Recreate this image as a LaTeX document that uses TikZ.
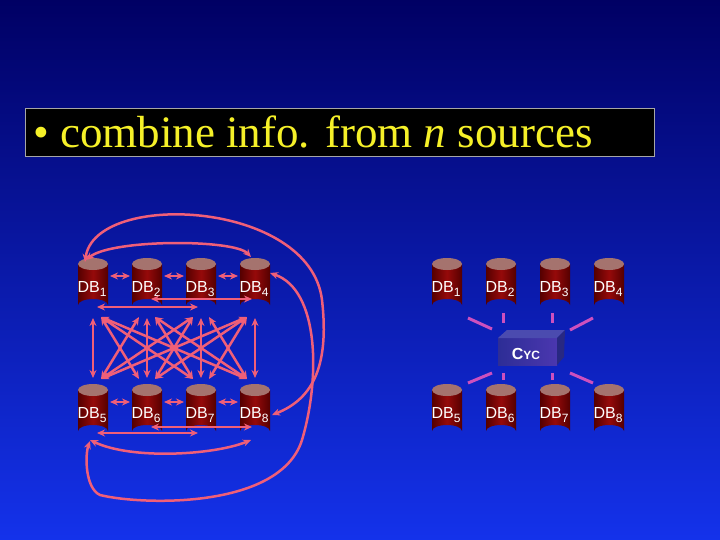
\documentclass[tikz,border=0pt]{standalone}
\usepackage{fontspec}
\setmainfont{Liberation Serif}
\setsansfont{Liberation Sans}
\usetikzlibrary{arrows.meta,calc}
\definecolor{bgtop}{RGB}{0,0,100}
\definecolor{bgbot}{RGB}{20,50,235}
\definecolor{arr}{RGB}{240,95,120}
\definecolor{cycl}{RGB}{205,80,190}
\definecolor{cylmid}{RGB}{150,10,10}
\definecolor{cyledge}{RGB}{85,0,0}
\definecolor{cyltop}{RGB}{165,115,110}
\definecolor{titley}{RGB}{245,240,40}
\definecolor{cfront}{RGB}{45,45,150}
\definecolor{cfront2}{RGB}{75,55,175}
\definecolor{ctop}{RGB}{75,75,175}
\definecolor{cside}{RGB}{40,40,130}
\tikzset{
  dbl/.style={arr,line width=2.5pt,{Stealth[length=8pt,width=7pt]}-{Stealth[length=8pt,width=7pt]}},
  cycline/.style={cycl,line width=3pt},
  dblabel/.style={text=white,font=\sffamily\fontsize{16}{16}\selectfont,inner sep=0pt}
}
\newcommand{\cyl}[4]{%
  \shade[left color=cyledge,right color=cyledge,middle color=cylmid]
    (#2-15,#3+6) -- (#2-15,#3+47) arc[start angle=180,end angle=360,x radius=15,y radius=6] -- (#2+15,#3+6) -- cycle;
  \fill[cyltop] (#2,#3+6) ellipse[x radius=15,y radius=6];
  \node[dblabel] (#1) at (#2-1,#3+31) {DB\raisebox{-4pt}{\fontsize{12}{12}\selectfont #4}};
}
\begin{document}
\begin{tikzpicture}[x=1pt,y=-1pt]
\shade[top color=bgtop,bottom color=bgbot] (0,0) rectangle (720,540);
\useasboundingbox (0,0) rectangle (720,540);
% title
\node[draw=gray!70,fill=black,line width=0.8pt,minimum width=629pt,minimum height=48pt,inner sep=0pt] (title) at (339.5,132) {};
\node[text=titley,font=\fontsize{45}{45}\selectfont,anchor=west,inner sep=0pt] (ttext) at (33,132) {• combine info. from \textit{n} sources};
% left cylinders
\foreach \i/\x in {1/93,2/147,3/201,4/255}{\cyl{L\i}{\x}{258}{\i}}
\foreach \i/\x in {5/93,6/147,7/201,8/255}{\cyl{L\i}{\x}{384}{\i}}
% right cylinders
\foreach \i/\x in {1/447,2/501,3/555,4/609}{\cyl{R\i}{\x}{258}{\i}}
\foreach \i/\x in {5/447,6/501,7/555,8/609}{\cyl{R\i}{\x}{384}{\i}}
% horizontal adjacent
\foreach \a/\b in {1/2,2/3,3/4}{
  \draw[dbl] ($(L\a)+(18,-13)$) -- ($(L\b)+(-16,-13)$);
  \pgfmathtruncatemacro{\c}{\a+4}\pgfmathtruncatemacro{\d}{\b+4}
  \draw[dbl] ($(L\c)+(18,-13)$) -- ($(L\d)+(-16,-13)$);
}
\draw[dbl] ($(L1)+(5,18)$) -- ($(L3)+(-2,18)$);
\draw[dbl] ($(L2)+(5,10)$) -- ($(L4)+(-2,10)$);
\draw[dbl] ($(L5)+(5,18)$) -- ($(L7)+(-2,18)$);
\draw[dbl] ($(L6)+(5,12)$) -- ($(L8)+(-2,12)$);
% verticals
\foreach \a/\b in {1/5,2/6,3/7,4/8}{\draw[dbl] ($(L\a)+(1,29)$) -- ($(L\b)+(1,-37)$);}
% diagonals
\foreach \a in {1,2,3,4}{\foreach \b in {1,2,3,4}{
  \ifnum\a<\b \pgfmathtruncatemacro{\bb}{\b+4}
    \draw[dbl] ($(L\a)+(9,28)$) -- ($(L\bb)+(-7,-36)$);
  \fi
  \ifnum\a>\b \pgfmathtruncatemacro{\bb}{\b+4}
    \draw[dbl] ($(L\a)+(-7,28)$) -- ($(L\bb)+(9,-36)$);
  \fi}}
% long arcs
\draw[dbl] ($(L1)+(-6,-29)$) .. controls ($(L1)+(20,-50)$) and ($(L4)+(-20,-50)$) .. ($(L4)+(-3,-32)$);
\draw[dbl] ($(L5)+(-2,25)$) .. controls ($(L5)+(40,45)$) and ($(L8)+(-40,40)$) .. ($(L8)+(-3,25)$);
\draw[dbl] ($(L1)+(-7,-27)$) .. controls (95,190) and (310,200) .. (322,300) .. controls (330,370) and (310,400) .. ($(L8)+(18,0)$);
\draw[dbl] ($(L4)+(16,-16)$) .. controls (320,290) and (320,380) .. (302,440) .. controls (280,510) and (140,505) .. (100,495) .. controls (85,488) and (85,455) .. ($(L5)+(-2,26)$);
% Cyc box
\shade[left color=cfront,right color=cfront2] (498,338) rectangle (557,365);
\fill[ctop] (498,338) -- (507,330) -- (565,330) -- (557,338) -- cycle;
\fill[cside] (557,338) -- (565,330) -- (564,357) -- (557,365) -- cycle;
\node[text=white,font=\sffamily\bfseries\fontsize{16}{16}\selectfont,inner sep=0pt] (cyc) at (526,354) {C\fontsize{12}{12}\selectfont YC};
\coordinate (c1a) at (468,318); \coordinate (c1b) at (492,329);
\coordinate (c2a) at (503,313); \coordinate (c2b) at (503,323);
\coordinate (c3a) at (552,313); \coordinate (c3b) at (552,323);
\coordinate (c4a) at (593,318); \coordinate (c4b) at (570,330);
\coordinate (c5a) at (468,383); \coordinate (c5b) at (492,373);
\coordinate (c6a) at (503,380); \coordinate (c6b) at (503,373);
\coordinate (c7a) at (552,380); \coordinate (c7b) at (552,373);
\coordinate (c8a) at (593,383); \coordinate (c8b) at (570,373);
\foreach \i in {1,...,8}{\draw[cycline] (c\i a) -- (c\i b);}
\end{tikzpicture}
\end{document}
